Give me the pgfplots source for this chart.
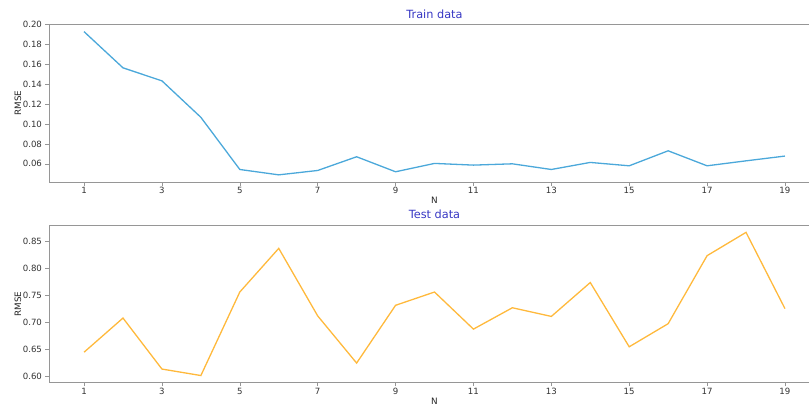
\documentclass[border=0pt]{standalone}
\usepackage{fontspec}
\setmainfont{DejaVu Sans}
\usepackage{pgfplots}
\pgfplotsset{compat=1.18}
\definecolor{trainblue}{RGB}{75,168,218}
\definecolor{testorange}{RGB}{255,185,60}
\definecolor{titleblue}{RGB}{55,55,195}
\definecolor{spine}{RGB}{150,150,150}
\begin{document}
\begin{tikzpicture}
\pgfplotsset{
  myax/.style={
    scale only axis, width=771pt, height=157.5pt,
    xmin=0.1, xmax=19.9,
    xtick={1,3,...,19},
    axis line style={spine, line width=0.6pt},
    tick style={spine, line width=0.6pt},
    tick align=outside, tick pos=left,
    major tick length=3.5pt,
    tick label style={font=\fontsize{8.6}{10}\selectfont, text=black!80},
    /pgf/number format/assume math mode=true,
    yticklabel style={/pgf/number format/.cd, fixed, fixed zerofill, precision=2},
    xticklabel style={inner sep=1.5pt},
    label style={font=\fontsize{8.8}{10}\selectfont, text=black!85},
    xlabel style={inner sep=1pt, yshift=-1pt},
    ylabel style={inner sep=0pt, yshift=-2pt},
    title style={font=\fontsize{11.3}{13}\selectfont, text=titleblue, inner sep=1pt, yshift=-1pt},
    xlabel={N}, ylabel={RMSE},
  }
}
\begin{axis}[myax, name=top, at={(0pt,0pt)}, anchor=south west,
  title={Train data},
  ymin=0.0417, ymax=0.2002,
  ytick={0.06,0.08,...,0.201},
]
\addplot[trainblue, line width=1.3pt] coordinates {
(1,0.193) (2,0.1566) (3,0.1435) (4,0.1068) (5,0.0543) (6,0.0489) (7,0.0533)
(8,0.0671) (9,0.0520) (10,0.0604) (11,0.0587) (12,0.0600) (13,0.0543)
(14,0.0614) (15,0.0580) (16,0.0731) (17,0.0580) (18,0.0630) (19,0.0678)
};
\end{axis}
\begin{axis}[myax, name=bot, at={(0pt,-200.7pt)}, anchor=south west,
  title={Test data},
  ymin=0.5888, ymax=0.8792,
  ytick={0.60,0.65,...,0.851},
]
\addplot[testorange, line width=1.3pt] coordinates {
(1,0.645) (2,0.708) (3,0.614) (4,0.602) (5,0.756) (6,0.8365) (7,0.712)
(8,0.625) (9,0.7315) (10,0.756) (11,0.6876) (12,0.727) (13,0.711)
(14,0.7735) (15,0.655) (16,0.6976) (17,0.823) (18,0.866) (19,0.7254)
};
\end{axis}
\pgfresetboundingbox
\path[use as bounding box] (-49pt,-223pt) rectangle (760pt,182pt);
\end{tikzpicture}
\end{document}
